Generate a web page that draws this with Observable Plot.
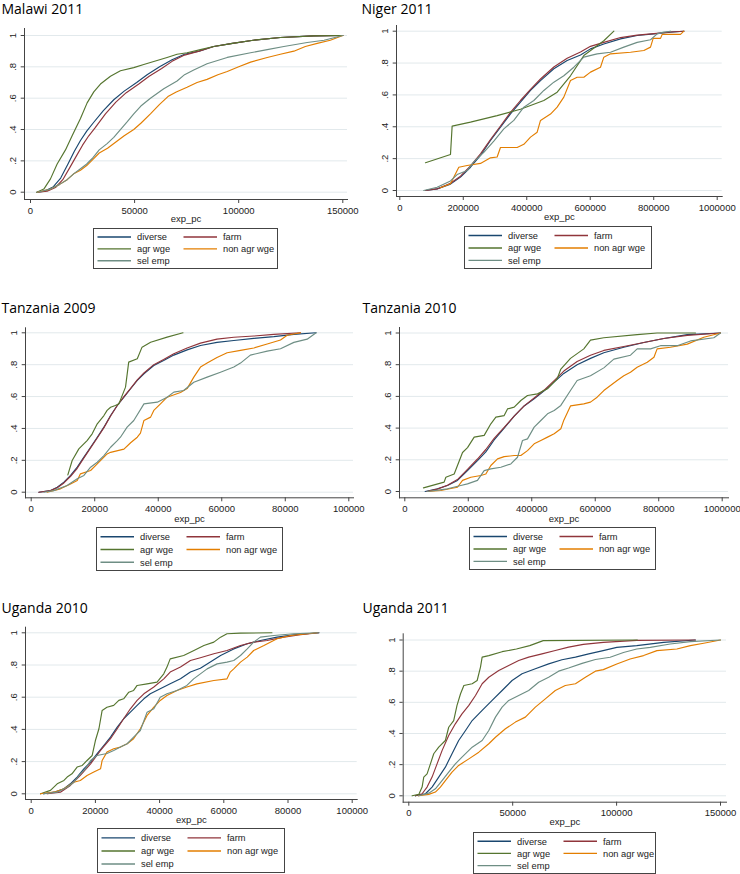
<!DOCTYPE html>
<html>
<head>
<meta charset="utf-8">
<script src="https://cdn.jsdelivr.net/npm/d3@7"></script>
<script src="https://cdn.jsdelivr.net/npm/@observablehq/plot@0.6"></script>
<style>
  body { margin: 0; background: #fff; }
  #root { position: relative; width: 740px; height: 874px; overflow: hidden; background: #fff; }
  .panel { position: absolute; }
  .title { position: absolute; font-family: "Open Sans", Lato, sans-serif; font-size: 14px; line-height: 16px; color: #000; white-space: nowrap; }
  .legend { position: absolute; overflow: visible; }
</style>
</head>
<body>
<div id="root"></div>
<script>
// ---------- legend / series ----------
const seriesNames = ["diverse", "farm", "agr wge", "non agr wge", "sel emp"];
const seriesColors = ["#1a476f", "#90353b", "#55752f", "#e37e00", "#6e8e84"];

// ---------- ticks ----------
const yTicks = [0, 0.2, 0.4, 0.6, 0.8, 1];
const yTickLabels = ["0", ".2", ".4", ".6", ".8", "1"];
const xTicks150k = [0, 50000, 100000, 150000];
const xTicks100k = [0, 20000, 40000, 60000, 80000, 100000];
const xTicks1m = [0, 200000, 400000, 600000, 800000, 1000000];
const xLabel = "exp_pc";

// ---------- Malawi 2011 ----------
const malawiDiverse = [[3000,0],[7000,0.007],[11000,0.035],[14500,0.09],[18000,0.18],[21000,0.26],[24000,0.33],[27000,0.39],[30000,0.44],[35000,0.52],[40000,0.59],[45000,0.645],[51000,0.7],[56000,0.75],[62000,0.8],[68000,0.845],[74000,0.88],[81000,0.9],[88000,0.93],[97000,0.95],[107000,0.97],[120000,0.987],[136000,0.998],[150000,1]];
const malawiFarm = [[3500,0],[8000,0.007],[12000,0.03],[15500,0.08],[19000,0.16],[22000,0.23],[25000,0.3],[28000,0.36],[31000,0.41],[36000,0.5],[41000,0.575],[46000,0.635],[52000,0.69],[57000,0.74],[63000,0.79],[68000,0.835],[74000,0.875],[81000,0.9],[88000,0.93],[97000,0.95],[107000,0.97],[120000,0.987],[136000,0.998],[150000,1]];
const malawiAgrWge = [[3000,0],[6400,0.02],[9600,0.085],[12800,0.18],[16800,0.27],[20000,0.36],[24000,0.47],[27200,0.57],[30400,0.64],[33600,0.69],[38400,0.74],[43200,0.775],[49600,0.795],[54400,0.815],[60800,0.84],[65600,0.86],[70400,0.88],[75200,0.89],[81600,0.91],[88000,0.93],[97000,0.95],[107000,0.97],[120000,0.987],[136000,0.998],[150000,1]];
const malawiNonAgrWge = [[3200,0],[9600,0.02],[14000,0.05],[17600,0.08],[21000,0.12],[24000,0.14],[27000,0.17],[30000,0.21],[33000,0.25],[37000,0.28],[41000,0.32],[45000,0.36],[49600,0.4],[53000,0.44],[57600,0.5],[62000,0.56],[66000,0.61],[70000,0.64],[75200,0.67],[80000,0.7],[84800,0.72],[90000,0.75],[94500,0.77],[100000,0.8],[105700,0.83],[113700,0.86],[120000,0.88],[126500,0.9],[132000,0.93],[137700,0.95],[144000,0.97],[150000,1]];
const malawiSelEmp = [[3200,0],[9600,0.02],[14000,0.05],[17600,0.08],[21000,0.12],[24000,0.15],[27000,0.18],[30000,0.22],[33000,0.27],[36800,0.31],[40000,0.35],[43200,0.4],[46500,0.45],[49600,0.5],[53000,0.55],[57600,0.6],[64000,0.66],[70400,0.71],[74000,0.75],[78400,0.78],[84800,0.82],[94500,0.86],[105700,0.89],[113700,0.91],[121700,0.93],[132900,0.955],[141000,0.97],[150000,1]];

// ---------- Niger 2011 ----------
const nigerDiverse = [[80900,0],[117600,0.01],[159700,0.04],[191200,0.084],[222700,0.146],[254200,0.22],[285700,0.314],[317200,0.397],[348700,0.481],[380200,0.554],[411800,0.628],[443300,0.69],[485300,0.764],[527300,0.816],[569300,0.851],[600800,0.889],[642800,0.92],[695400,0.952],[747900,0.973],[800400,0.983],[852900,0.994],[894900,1]];
const nigerFarm = [[80900,0],[117600,0.01],[159700,0.045],[191200,0.09],[222700,0.155],[254200,0.23],[285700,0.32],[317200,0.405],[348700,0.49],[380200,0.565],[411800,0.635],[443300,0.7],[485300,0.775],[527300,0.83],[569300,0.87],[600800,0.905],[642800,0.93],[695400,0.96],[747900,0.975],[800400,0.985],[852900,0.995],[894900,1]];
const nigerAgrWge = [[80900,0.174],[159700,0.226],[164900,0.404],[222700,0.429],[306700,0.47],[380200,0.51],[453800,0.565],[495800,0.617],[537800,0.72],[579800,0.847],[642800,0.94],[674400,1]];
const nigerNonAgrWge = [[128100,0.017],[159700,0.042],[185900,0.146],[212200,0.157],[254200,0.17],[285700,0.205],[306700,0.21],[317200,0.27],[369700,0.27],[390800,0.29],[411800,0.335],[432800,0.366],[443300,0.44],[474800,0.48],[495800,0.523],[516800,0.586],[537800,0.69],[558800,0.711],[579800,0.711],[600800,0.743],[632300,0.774],[642800,0.837],[663900,0.858],[726900,0.868],[768900,0.879],[789900,0.9],[798300,0.955],[821400,0.955],[826700,0.98],[884400,0.98],[894900,1]];
const nigerSelEmp = [[75600,0],[117600,0.02],[159700,0.06],[180700,0.1],[212200,0.125],[233200,0.18],[264700,0.24],[296200,0.31],[327700,0.387],[359200,0.44],[390800,0.523],[422300,0.565],[453800,0.628],[485300,0.68],[516800,0.72],[548300,0.774],[579800,0.837],[621800,0.858],[663900,0.868],[705900,0.9],[747900,0.93],[789900,0.946],[810900,0.983],[831900,0.994],[852900,1]];

// ---------- Tanzania 2009 ----------
const tz09Diverse = [[2400,0],[6100,0.01],[8200,0.031],[10300,0.063],[12400,0.105],[14500,0.157],[16600,0.22],[18700,0.282],[20800,0.345],[22900,0.408],[25000,0.481],[27100,0.544],[29200,0.596],[31300,0.649],[33400,0.701],[35500,0.743],[38600,0.795],[41700,0.826],[44900,0.86],[49100,0.893],[53300,0.92],[58500,0.94],[63800,0.952],[70100,0.965],[76400,0.976],[82700,0.99],[89700,1]];
const tz09Farm = [[2400,0],[6100,0.01],[8200,0.028],[10300,0.058],[12400,0.1],[14500,0.15],[16600,0.215],[18700,0.278],[20800,0.34],[22900,0.405],[25000,0.478],[27100,0.544],[29200,0.6],[31300,0.652],[33400,0.705],[35500,0.748],[38600,0.8],[41700,0.832],[44900,0.868],[49100,0.905],[53300,0.935],[58500,0.96],[63800,0.972],[70100,0.98],[76400,0.99],[84800,1]];
const tz09AgrWge = [[11540,0.109],[12900,0.199],[15000,0.272],[17600,0.324],[19200,0.366],[20800,0.429],[22900,0.481],[23900,0.513],[25000,0.533],[26500,0.544],[27600,0.554],[29700,0.659],[30700,0.816],[33400,0.837],[34900,0.91],[37600,0.941],[42800,0.973],[47800,1]];
const tz09NonAgrWge = [[5000,0],[9200,0.021],[12400,0.052],[14500,0.073],[15500,0.115],[18700,0.136],[20800,0.178],[22900,0.22],[23900,0.24],[25000,0.25],[29200,0.27],[31300,0.31],[33400,0.345],[34400,0.37],[35500,0.45],[37600,0.471],[38600,0.513],[40700,0.554],[42800,0.596],[47000,0.625],[49100,0.65],[51200,0.722],[53300,0.785],[55400,0.81],[58500,0.845],[61700,0.875],[65900,0.89],[70100,0.905],[74300,0.93],[78500,0.955],[80600,0.985],[84800,1]];
const tz09SelEmp = [[4000,0],[7100,0.01],[11300,0.042],[14500,0.084],[16600,0.105],[18700,0.157],[20800,0.188],[22900,0.23],[25000,0.282],[27100,0.324],[28100,0.345],[30200,0.408],[32300,0.45],[35500,0.554],[39700,0.565],[42800,0.596],[44900,0.628],[48000,0.638],[51200,0.69],[55400,0.722],[59600,0.753],[63800,0.785],[65900,0.81],[69000,0.86],[74300,0.885],[78500,0.9],[82700,0.94],[86900,0.96],[89700,1]];

// ---------- Tanzania 2010 ----------
const tz10Diverse = [[64000,0],[102800,0.017],[134400,0.038],[165900,0.07],[197500,0.132],[229000,0.195],[255300,0.25],[281500,0.325],[313100,0.4],[344600,0.475],[376100,0.54],[407600,0.585],[439100,0.635],[470000,0.69],[501000,0.745],[543000,0.8],[585000,0.84],[627000,0.875],[690000,0.91],[753000,0.94],[816000,0.965],[890000,0.99],[994700,1]];
const tz10Farm = [[70000,0],[102800,0.015],[134400,0.04],[165900,0.075],[197500,0.14],[229000,0.205],[255300,0.265],[281500,0.335],[313100,0.405],[344600,0.475],[376100,0.54],[407600,0.59],[439100,0.64],[470600,0.7],[501000,0.76],[543000,0.82],[585000,0.86],[627000,0.89],[690000,0.915],[753000,0.94],[816000,0.965],[890000,0.985],[994700,1]];
const tz10AgrWge = [[58800,0.023],[123900,0.059],[129400,0.09],[155600,0.11],[181900,0.246],[197600,0.277],[218600,0.343],[250100,0.354],[271100,0.427],[286900,0.469],[313100,0.479],[323600,0.521],[344600,0.532],[365600,0.574],[386600,0.606],[418100,0.616],[449600,0.648],[480000,0.71],[491000,0.77],[522000,0.84],[564000,0.9],[585000,0.955],[627000,0.97],[732000,0.99],[795000,1],[916000,1]];
const tz10NonAgrWge = [[71400,0],[113400,0.006],[165900,0.027],[181900,0.07],[208100,0.09],[239600,0.101],[255300,0.11],[271100,0.164],[292100,0.206],[313100,0.22],[344600,0.227],[365600,0.227],[386600,0.258],[407600,0.301],[428600,0.322],[449600,0.343],[470600,0.364],[491600,0.396],[501000,0.45],[522000,0.54],[564000,0.553],[585000,0.564],[606000,0.595],[627000,0.637],[648000,0.669],[669000,0.7],[690000,0.73],[711000,0.752],[732000,0.784],[764000,0.816],[785000,0.847],[795000,0.9],[837000,0.91],[890000,0.93],[942000,0.973],[994700,1]];
const tz10SelEmp = [[71400,0],[134400,0.017],[176400,0.038],[197500,0.048],[229000,0.07],[250100,0.132],[271100,0.143],[302600,0.153],[334100,0.174],[355100,0.216],[370800,0.322],[386600,0.332],[407600,0.406],[428600,0.448],[449600,0.49],[470600,0.511],[491600,0.543],[522000,0.637],[543000,0.7],[585000,0.73],[627000,0.78],[658600,0.835],[711100,0.86],[732100,0.9],[774100,0.9],[805600,0.92],[858200,0.92],[900200,0.95],[973700,0.97],[994700,1]];

// ---------- Uganda 2010 ----------
const ug10Diverse = [[3900,0],[7100,0.01],[10200,0.031],[12200,0.062],[14300,0.104],[16400,0.155],[18500,0.197],[20500,0.248],[22600,0.3],[24700,0.352],[26800,0.414],[28800,0.466],[30900,0.507],[33000,0.549],[35100,0.59],[37100,0.621],[40200,0.652],[43300,0.683],[46500,0.714],[49600,0.756],[52700,0.78],[55800,0.818],[59000,0.859],[63100,0.9],[67300,0.932],[71400,0.952],[76600,0.973],[81800,0.988],[89600,1]];
const ug10Farm = [[5000,0],[9100,0.01],[12200,0.052],[15300,0.114],[18500,0.186],[21600,0.269],[24700,0.342],[26800,0.404],[28800,0.466],[30900,0.528],[33000,0.58],[35100,0.621],[38200,0.663],[41300,0.714],[43300,0.756],[46500,0.787],[49600,0.828],[52700,0.845],[56900,0.87],[61000,0.89],[65200,0.921],[69300,0.942],[73500,0.952],[78700,0.973],[83900,0.988],[89600,1]];
const ug10AgrWge = [[2900,0],[6000,0.021],[8100,0.062],[10200,0.083],[11200,0.104],[12700,0.124],[14300,0.166],[15900,0.176],[17400,0.207],[19000,0.238],[20000,0.331],[21100,0.404],[22100,0.518],[23600,0.538],[25700,0.549],[27300,0.58],[28800,0.59],[30400,0.631],[31900,0.642],[33000,0.673],[36100,0.683],[39200,0.694],[41300,0.745],[42300,0.787],[43300,0.838],[47500,0.859],[50700,0.89],[53800,0.921],[56900,0.942],[59000,0.973],[61000,0.994],[65200,0.998],[75000,1]];
const ug10NonAgrWge = [[2900,0],[7100,0.01],[10200,0.031],[13300,0.072],[15300,0.083],[17400,0.114],[19500,0.135],[21600,0.155],[22100,0.207],[23600,0.259],[25700,0.28],[27800,0.29],[29900,0.311],[31900,0.342],[34000,0.404],[36100,0.487],[38200,0.538],[40200,0.58],[42300,0.611],[45400,0.642],[48500,0.663],[51600,0.683],[56900,0.704],[61000,0.714],[62000,0.756],[63100,0.776],[65200,0.818],[67300,0.849],[69300,0.89],[72500,0.921],[76600,0.963],[80800,0.983],[89100,1]];
const ug10SelEmp = [[3900,0],[8100,0.01],[11200,0.041],[13300,0.072],[15300,0.124],[16900,0.155],[18500,0.207],[20500,0.238],[23600,0.25],[25700,0.269],[27800,0.29],[29900,0.311],[31900,0.352],[34000,0.393],[36100,0.507],[38200,0.528],[40200,0.6],[42300,0.621],[45400,0.642],[48500,0.673],[50600,0.714],[52700,0.745],[54800,0.776],[57900,0.807],[61000,0.818],[63100,0.828],[65200,0.859],[67300,0.9],[69300,0.942],[71400,0.973],[75600,0.983],[81800,0.994],[89600,1]];

// ---------- Uganda 2011 ----------
const ug11Diverse = [[3200,0],[8000,0.013],[11200,0.056],[14400,0.12],[17600,0.184],[20800,0.27],[24000,0.355],[27300,0.419],[30500,0.483],[35300,0.548],[40100,0.612],[44900,0.676],[49700,0.74],[54500,0.783],[60900,0.815],[67300,0.847],[73700,0.873],[80200,0.89],[86600,0.911],[93000,0.93],[100100,0.953],[109700,0.964],[122600,0.985],[137900,1]];
const ug11Farm = [[3200,0],[6400,0.013],[8800,0.056],[11200,0.12],[13600,0.205],[16000,0.29],[19200,0.387],[22400,0.462],[25600,0.526],[28900,0.58],[32100,0.644],[35300,0.719],[38500,0.761],[43300,0.804],[48100,0.836],[52900,0.868],[57700,0.89],[64100,0.911],[70500,0.933],[76900,0.954],[84000,0.972],[93600,0.985],[109700,0.998],[137900,1]];
const ug11AgrWge = [[1600,0],[4800,0.009],[6400,0.056],[7200,0.12],[8800,0.141],[10400,0.205],[12000,0.27],[14400,0.312],[17600,0.355],[19200,0.44],[21600,0.483],[23200,0.58],[24900,0.655],[26500,0.708],[30500,0.719],[32900,0.74],[34500,0.826],[35300,0.89],[38500,0.9],[44900,0.925],[51800,0.942],[58200,0.964],[64700,0.996],[110000,1]];
const ug11NonAgrWge = [[4800,0],[9600,0.009],[12800,0.024],[15200,0.056],[17600,0.098],[20800,0.152],[24000,0.195],[28900,0.237],[33700,0.28],[38500,0.334],[41700,0.376],[46500,0.43],[51300,0.473],[56100,0.505],[60900,0.569],[65700,0.622],[70500,0.676],[75300,0.708],[80200,0.719],[85000,0.761],[89800,0.8],[93600,0.81],[100100,0.846],[106500,0.878],[113000,0.9],[119400,0.932],[129000,0.942],[135500,0.964],[141900,0.979],[150000,1]];
const ug11SelEmp = [[4800,0],[9600,0.017],[12800,0.045],[16000,0.098],[19200,0.152],[22400,0.205],[25600,0.248],[30500,0.312],[35300,0.355],[38500,0.419],[41700,0.505],[44900,0.569],[48100,0.612],[52900,0.644],[57700,0.676],[62500,0.729],[67300,0.761],[72100,0.8],[76900,0.82],[83400,0.85],[89800,0.875],[96900,0.889],[103300,0.92],[109700,0.942],[116200,0.953],[125800,0.974],[135500,0.99],[150000,1]];

// ---------- layout (pixel geometry only) ----------
const panels = [
  { title: "Malawi 2011", series: [malawiDiverse, malawiFarm, malawiAgrWge, malawiNonAgrWge, malawiSelEmp],
    xTicks: xTicks150k, xDomain: [0, 150000],
    box: [0, 0, 370, 290], frame: [24, 347, 28, 199], xRange: [30, 342.3], yRange: [191.7, 35],
    titleX: 1.5, titleTop: 0.8, labelDy: 19.5, legend: [93, 228, 185, 41] },
  { title: "Niger 2011", series: [nigerDiverse, nigerFarm, nigerAgrWge, nigerNonAgrWge, nigerSelEmp],
    xTicks: xTicks1m, xDomain: [0, 1000000],
    box: [370, 0, 370, 290], frame: [26, 351.7, 25, 196], xRange: [29.3, 346.7], yRange: [190, 30.7],
    titleX: 361.5, titleTop: 0.8, labelDy: 20, legend: [464, 226, 188, 43] },
  { title: "Tanzania 2009", series: [tz09Diverse, tz09Farm, tz09AgrWge, tz09NonAgrWge, tz09SelEmp],
    xTicks: xTicks100k, xDomain: [0, 100000],
    box: [0, 290, 370, 290], frame: [25, 353, 37.3, 207.3], xRange: [30.7, 348.3], yRange: [201.7, 42.3],
    titleX: 1.5, titleTop: 300, labelDy: 21.5, legend: [96, 527, 187, 44] },
  { title: "Tanzania 2010", series: [tz10Diverse, tz10Farm, tz10AgrWge, tz10NonAgrWge, tz10SelEmp],
    xTicks: xTicks1m, xDomain: [0, 1000000],
    box: [370, 290, 370, 290], frame: [29, 358, 37, 207.3], xRange: [34.3, 351.7], yRange: [201, 42.5],
    titleX: 362.5, titleTop: 300, labelDy: 21, legend: [469, 527, 187, 43] },
  { title: "Uganda 2010", series: [ug10Diverse, ug10Farm, ug10AgrWge, ug10NonAgrWge, ug10SelEmp],
    xTicks: xTicks100k, xDomain: [0, 100000],
    box: [0, 580, 370, 294], frame: [25, 356.7, 46.7, 219], xRange: [30.7, 351.7], yRange: [213.3, 52.3],
    titleX: 1.5, titleTop: 599.8, labelDy: 20.5, legend: [97, 828, 188, 45] },
  { title: "Uganda 2011", series: [ug11Diverse, ug11Farm, ug11AgrWge, ug11NonAgrWge, ug11SelEmp],
    xTicks: xTicks150k, xDomain: [0, 150000],
    box: [370, 580, 370, 294], frame: [32.7, 356, 53.3, 221.7], xRange: [38.3, 350], yRange: [215.3, 59.5],
    titleX: 362.5, titleTop: 599.8, labelDy: 20, legend: [473, 832, 183, 42] }
];

const root = document.getElementById("root");
const svgNS = "http://www.w3.org/2000/svg";

function makePlot(p) {
  const rows = [];
  p.series.forEach((pts, i) => pts.forEach(([x, y]) => rows.push({ series: seriesNames[i], x, y })));
  const [bx, by, bw, bh] = p.box;
  const [l, r, t, b] = p.frame;
  return Plot.plot({
    width: bw, height: bh,
    marginLeft: l, marginRight: bw - r, marginTop: t, marginBottom: bh - b,
    x: { domain: p.xDomain, range: p.xRange },
    y: { domain: [0, 1], range: p.yRange },
    color: { domain: seriesNames, range: seriesColors },
    style: { fontFamily: "'Liberation Sans', Arial, sans-serif", fontSize: "9.5px", color: "#222", background: "transparent", overflow: "visible" },
    marks: [
      Plot.gridY(yTicks, { stroke: "#e2e9ec", strokeOpacity: 1, strokeWidth: 1 }),
      Plot.line(rows, { x: "x", y: "y", z: "series", stroke: "series", strokeWidth: 1.15 }),
      Plot.frame({ anchor: "left", stroke: "#444", strokeWidth: 1 }),
      Plot.frame({ anchor: "bottom", stroke: "#444", strokeWidth: 1 }),
      Plot.axisX({ ticks: p.xTicks, tickFormat: d => String(d), tickSize: 4, tickPadding: 3.5, label: null, stroke: "#444" }),
      Plot.axisY({ ticks: yTicks, tickFormat: d => yTickLabels[yTicks.indexOf(d)], tickSize: 3.3, tickPadding: 5,
                   tickRotate: -90, textAnchor: "middle", lineAnchor: "bottom", label: null, stroke: "#444" }),
      Plot.text([xLabel], { text: d => d, frameAnchor: "bottom", dy: p.labelDy, lineAnchor: "middle", fill: "#222" })
    ]
  });
}

function makeLegend(lw, lh) {
  const svg = document.createElementNS(svgNS, "svg");
  svg.setAttribute("width", lw);
  svg.setAttribute("height", lh);
  svg.setAttribute("class", "legend");
  const rect = document.createElementNS(svgNS, "rect");
  rect.setAttribute("x", 0.5); rect.setAttribute("y", 0.5);
  rect.setAttribute("width", lw - 1); rect.setAttribute("height", lh - 1);
  rect.setAttribute("fill", "#fff"); rect.setAttribute("stroke", "#444"); rect.setAttribute("stroke-width", 1);
  svg.appendChild(rect);
  const rowFrac = [0.22, 0.51, 0.8];
  seriesNames.forEach((name, i) => {
    const col = i % 2, row = Math.floor(i / 2);
    const cy = lh * rowFrac[row];
    const sx = col === 0 ? 4.5 : 90.5;
    const ln = document.createElementNS(svgNS, "line");
    ln.setAttribute("x1", sx); ln.setAttribute("x2", sx + 33.5);
    ln.setAttribute("y1", cy); ln.setAttribute("y2", cy);
    ln.setAttribute("stroke", seriesColors[i]); ln.setAttribute("stroke-width", 1.4);
    svg.appendChild(ln);
    const tx = document.createElementNS(svgNS, "text");
    tx.setAttribute("x", sx + 39.5);
    tx.setAttribute("y", cy + 3.3);
    tx.setAttribute("font-family", "'Liberation Sans', Arial, sans-serif");
    tx.setAttribute("font-size", "9.3");
    tx.setAttribute("fill", "#222");
    tx.textContent = name;
    svg.appendChild(tx);
  });
  return svg;
}

panels.forEach(p => {
  const [bx, by] = p.box;
  const wrap = document.createElement("div");
  wrap.className = "panel";
  wrap.style.left = bx + "px";
  wrap.style.top = by + "px";
  wrap.appendChild(makePlot(p));
  root.appendChild(wrap);

  const title = document.createElement("div");
  title.className = "title";
  title.textContent = p.title;
  title.style.left = p.titleX + "px";
  title.style.top = p.titleTop + "px";
  root.appendChild(title);

  const [lx, ly, lw, lh] = p.legend;
  const lg = makeLegend(lw, lh);
  lg.style.left = lx + "px";
  lg.style.top = ly + "px";
  root.appendChild(lg);
});
</script>
</body>
</html>
